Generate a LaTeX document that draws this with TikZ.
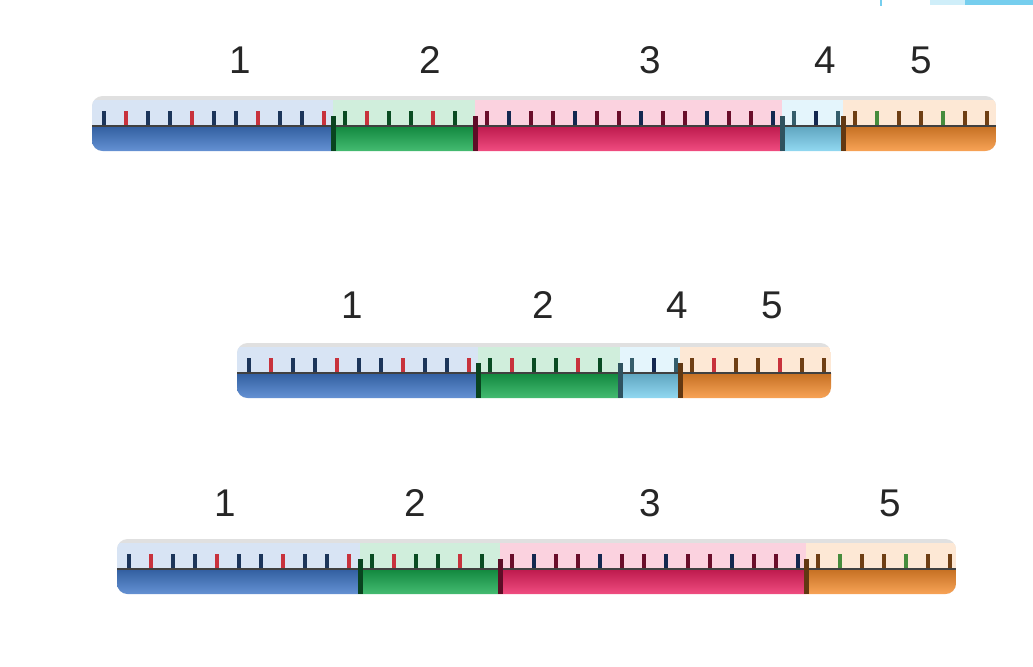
\documentclass[tikz,border=0pt]{standalone}
\usepackage{fontspec}
\setmainfont{Liberation Sans}
\definecolor{rlblue}{RGB}{62,118,200}
\definecolor{rlgreen}{RGB}{22,170,78}
\definecolor{rlred}{RGB}{236,32,96}
\definecolor{rlsky}{RGB}{118,206,238}
\definecolor{rlorange}{RGB}{246,140,44}
\definecolor{tkred}{RGB}{200,50,60}
\definecolor{tkgreen}{RGB}{70,140,60}
\definecolor{tknavy}{RGB}{20,40,80}

% one ruler: #1 row id, #2 left x, #3 right x, #4 top y, #5 label y,
% #6 segments as left/right/colour/second tick colour/number/label x
\newcommand{\ruler}[6]{%
  \begin{scope}
    \clip[rounded corners=6] (#2,#4) rectangle (#3,#4+55);
    \fill[black!12] (#2,#4) rectangle (#3,#4+55);
    \foreach \a/\b/\c/\t/\n/\lx in {#6} {
      \fill[\c!20] (\a,#4+4) rectangle (\b,#4+30);
      \shade[top color=\c!80!black, middle color=\c, bottom color=\c!80!white]
        (\a,#4+30) rectangle (\b,#4+55);
      \pgfmathtruncatemacro\nt{(\b-\a-14)/22}
      \foreach \k in {0,...,\nt} {
        \pgfmathtruncatemacro\odd{mod(\k,3)}
        \ifnum\odd=1 \def\tc{\t}\else\def\tc{\c!45!black}\fi
        \draw[tick, draw=\tc] (\a+12+\k*22,#4+30) -- ++(0,-15);
      }
    }
    \draw[base] (#2,#4+30) -- (#3,#4+30);
    % dark joints between the pieces
    \foreach \a/\b/\c/\t/\n/\lx in {#6} {
      \ifnum\a>#2 \fill[\c!40!black] (\a-2.5,#4+20) rectangle (\a+2.5,#4+55);\fi
    }
  \end{scope}
  \foreach \a/\b/\c/\t/\n/\lx in {#6} {
    \node[num] (r#1s\n) at (\lx,#5) {\n};
  }
}

\begin{document}
\begin{tikzpicture}[
    x=0.02cm, y=-0.02cm,
    num/.style={font=\fontsize{22}{24}\selectfont, text=black!85, inner sep=0pt},
    tick/.style={line width=2pt},
    base/.style={draw=black!75, line width=1.6pt},
  ]
  \useasboundingbox (0,0) rectangle (1033,666);

  % corner of the next picture
  \fill[rlsky!35] (930,0) rectangle (965,5);
  \fill[rlsky] (965,0) rectangle (1033,5);
  \fill[rlsky] (880,0) rectangle (882,6);

  %% ================= all five pieces =================
  \ruler{a}{92}{996}{96}{60}{92/333/rlblue/tkred/1/240, 333/475/rlgreen/tkred/2/430,
    475/782/rlred/tknavy/3/650, 782/843/rlsky/tknavy/4/825, 843/996/rlorange/tkgreen/5/921}

  %% ================= without piece 3 =================
  \ruler{b}{237}{831}{343}{305}{237/478/rlblue/tkred/1/352, 478/620/rlgreen/tkred/2/543,
    620/680/rlsky/tknavy/4/677, 680/831/rlorange/tkred/5/772}

  %% ================= without piece 4 =================
  \ruler{c}{117}{956}{539}{503}{117/360/rlblue/tkred/1/225, 360/500/rlgreen/tkred/2/415,
    500/806/rlred/tknavy/3/650, 806/956/rlorange/tkgreen/5/890}

\end{tikzpicture}
\end{document}
